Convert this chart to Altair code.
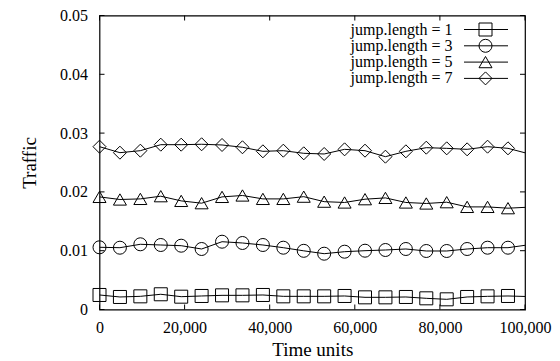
import altair as alt
import pandas as pd

# ---- data ----
time_units = [0, 4800, 9600, 14400, 19200, 24000, 28800, 33600, 38400, 43200, 48000,
              52800, 57600, 62400, 67200, 72000, 76800, 81600, 86400, 91200, 96000, 100800]
jl1 = [0.00247, 0.00213, 0.00224, 0.00259, 0.00218, 0.00230, 0.00241, 0.00241, 0.00247, 0.00224, 0.00224,
       0.00224, 0.00230, 0.00207, 0.00207, 0.00213, 0.00190, 0.00173, 0.00213, 0.00224, 0.00230, 0.00220]
jl3 = [0.01058, 0.01051, 0.01109, 0.01097, 0.01085, 0.01029, 0.01153, 0.01131, 0.01097, 0.01051, 0.00998,
       0.00949, 0.00983, 0.01000, 0.01012, 0.01029, 0.00995, 0.00995, 0.01029, 0.01051, 0.01051, 0.01100]
jl5 = [0.01915, 0.01871, 0.01881, 0.01927, 0.01847, 0.01808, 0.01915, 0.01939, 0.01881, 0.01881, 0.01919,
       0.01834, 0.01820, 0.01876, 0.01898, 0.01820, 0.01803, 0.01825, 0.01745, 0.01745, 0.01723, 0.01740]
jl7 = [0.02769, 0.02667, 0.02701, 0.02803, 0.02803, 0.02810, 0.02798, 0.02759, 0.02690, 0.02701, 0.02656,
       0.02645, 0.02724, 0.02701, 0.02599, 0.02690, 0.02752, 0.02741, 0.02724, 0.02769, 0.02741, 0.02650]
series_names = ["jump.length = 1", "jump.length = 3", "jump.length = 5", "jump.length = 7"]
series_shapes = ["square", "circle", "triangle-up", "diamond"]
series_sizes = [169, 169, 144, 196]
x_ticks = [0, 20000, 40000, 60000, 80000, 100000]
y_ticks = [0, 0.01, 0.02, 0.03, 0.04, 0.05]

FONT = "Liberation Serif"
W, H = 425.5, 294

rows = []
for name, vals in zip(series_names, [jl1, jl3, jl5, jl7]):
    for t, v in zip(time_units, vals):
        rows.append({"series": name, "t": t, "traffic": v})
df = pd.DataFrame(rows)
df_pts = df[df["t"] <= 100000]

xscale = alt.Scale(domain=[0, 100000], nice=False, zero=False)
yscale = alt.Scale(domain=[0, 0.05], nice=False)
shape_scale = alt.Scale(domain=series_names, range=series_shapes)
size_scale = alt.Scale(domain=series_names, range=series_sizes)

xaxis = alt.Axis(values=x_ticks, title="Time units", grid=False,
                 domain=False, ticks=False, labelFlush=False, labelOverlap=False,
                 labelFont=FONT, labelFontSize=16, labelColor="black",
                 labelExpr="format(datum.value, ',')")
yaxis = alt.Axis(values=y_ticks, title="Traffic", grid=False, domain=False, ticks=False,
                 labelFlush=False, labelOverlap=False,
                 labelFont=FONT, labelFontSize=16, labelColor="black",
                 labelExpr="datum.value == 0 ? '0' : format(datum.value, '.2f')")

lines = alt.Chart(df).mark_line(color="black", strokeWidth=1, clip=True).encode(
    x=alt.X("t:Q", scale=xscale, axis=xaxis),
    y=alt.Y("traffic:Q", scale=yscale, axis=yaxis),
    detail="series:N")

points = alt.Chart(df_pts).mark_point(filled=False, color="black", strokeWidth=1, opacity=1).encode(
    x=alt.X("t:Q", scale=xscale),
    y=alt.Y("traffic:Q", scale=yscale),
    shape=alt.Shape("series:N", scale=shape_scale, legend=None),
    size=alt.Size("series:N", scale=size_scale, legend=None),
)

# inward ticks on all four sides
xt = pd.DataFrame({"t": x_ticks})
yt = pd.DataFrame({"traffic": y_ticks})
tick_len = 5
bottom_ticks = alt.Chart(xt).mark_rule(color="black", strokeWidth=1).encode(
    x=alt.X("t:Q", scale=xscale), y=alt.value(H), y2=alt.value(H - tick_len))
top_ticks = alt.Chart(xt).mark_rule(color="black", strokeWidth=1).encode(
    x=alt.X("t:Q", scale=xscale), y=alt.value(0), y2=alt.value(tick_len))
left_ticks = alt.Chart(yt).mark_rule(color="black", strokeWidth=1).encode(
    y=alt.Y("traffic:Q", scale=yscale), x=alt.value(0), x2=alt.value(tick_len))
right_ticks = alt.Chart(yt).mark_rule(color="black", strokeWidth=1).encode(
    y=alt.Y("traffic:Q", scale=yscale), x=alt.value(W), x2=alt.value(W - tick_len))

# custom gnuplot-style key (text right-aligned, sample line + symbol on the right)
leg = pd.DataFrame({"series": series_names, "ly": [14 + 16.3 * i for i in range(4)]})
leg_text = alt.Chart(leg).mark_text(align="right", baseline="middle", font=FONT,
                                    fontSize=16, color="black").encode(
    x=alt.value(353), y=alt.Y("ly:Q", scale=None), text="series:N")
leg_line = alt.Chart(leg).mark_rule(color="black", strokeWidth=1).encode(
    x=alt.value(364.5), x2=alt.value(408.5), y=alt.Y("ly:Q", scale=None))
leg_pts = alt.Chart(leg).mark_point(filled=False, color="black", strokeWidth=1, opacity=1).encode(
    x=alt.value(386), y=alt.Y("ly:Q", scale=None),
    shape=alt.Shape("series:N", scale=shape_scale, legend=None),
    size=alt.Size("series:N", scale=size_scale, legend=None))

chart = alt.layer(lines, points, bottom_ticks, top_ticks, left_ticks, right_ticks,
                  leg_text, leg_line, leg_pts).properties(
    width=W, height=H,
    autosize=alt.AutoSizeParams(type="none"),
    padding={"left": 91.5, "top": 7.5, "right": 27, "bottom": 51},
    background="white",
).configure(
    style={"guide-label": {"font": FONT, "fontSize": 16, "fill": "black"},
           "guide-title": {"font": FONT, "fontSize": 19, "fontWeight": "normal", "fill": "black"}}
).configure_view(stroke="black", strokeWidth=1.2
).configure_axis(labelFont=FONT, labelFontSize=16, labelColor="black",
                 titleFont=FONT, titleFontSize=19, titleFontWeight="normal", titleColor="black"
).configure_axisX(labelPadding=10, titlePadding=5
).configure_axisY(labelPadding=12, titlePadding=20
).configure_text(font=FONT)

chart.save("out.html", embed_options={"renderer": "svg", "actions": False})
